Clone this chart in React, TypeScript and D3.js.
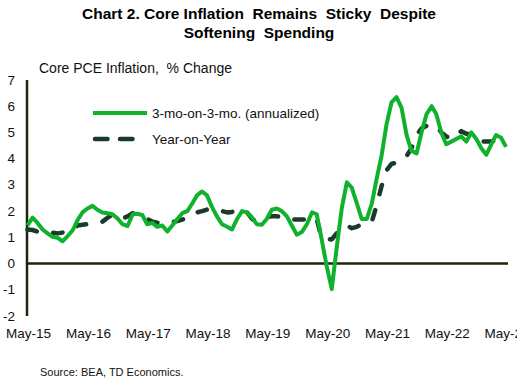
import React from "react";
import * as d3 from "d3";

const W = 517;
const H = 386;

const startYear = 2015;
const startMonth = 4; // May (0-based)

const tickLabels = ["May-15", "May-16", "May-17", "May-18", "May-19", "May-20", "May-21", "May-22", "May-23"];
const yTicks = [-2, -1, 0, 1, 2, 3, 4, 5, 6, 7];

const threeOnThree = [
  1.45, 1.75, 1.55, 1.3, 1.15, 1.02, 0.98, 0.85, 1.05, 1.27, 1.65, 1.95,
  2.1, 2.2, 2.05, 1.95, 1.92, 1.88, 1.72, 1.5, 1.43, 1.88, 1.9, 1.85,
  1.5, 1.55, 1.4, 1.45, 1.22, 1.45, 1.7, 1.92, 2.0, 2.3, 2.6, 2.75,
  2.6, 2.15, 1.8, 1.5, 1.4, 1.3, 1.7, 2.0, 1.95, 1.75, 1.5, 1.48,
  1.7, 2.05, 2.1, 2.0, 1.8, 1.45, 1.1, 1.2, 1.5, 1.95, 1.88, 0.9,
  -0.1, -0.97, 0.6, 2.1, 3.1, 2.9, 2.3, 1.7, 1.7, 2.3, 3.2, 4.1,
  5.3, 6.15, 6.35, 5.95, 4.9, 4.3, 4.2, 5.0, 5.7, 6.0, 5.7, 5.0,
  4.55, 4.65, 4.75, 4.85, 4.65, 5.0, 4.75, 4.4, 4.15, 4.55, 4.9, 4.8,
  4.45,
];

const yearOnYear = [
  1.3, 1.28, 1.22, 1.2, 1.2, 1.18, 1.15, 1.18, 1.18, 1.3, 1.45, 1.48,
  1.5, 1.53, 1.55, 1.6, 1.75, 1.87, 1.78, 1.72, 1.8, 1.92, 1.88, 1.75,
  1.7, 1.6, 1.56, 1.57, 1.56, 1.58, 1.62, 1.68, 1.72, 1.85, 1.95, 2.0,
  2.06, 2.08, 2.06, 2.0, 1.95, 1.97, 2.05, 2.06, 1.95, 1.7, 1.6, 1.68,
  1.78, 1.8, 1.8, 1.78, 1.72, 1.68, 1.68, 1.68, 1.68, 1.78, 1.7, 0.95,
  0.93, 0.92, 1.15, 1.35, 1.45, 1.35, 1.4, 1.5, 1.55, 1.6, 2.2, 2.95,
  3.55, 3.8, 3.85, 3.9, 4.1, 4.4, 4.9, 5.15, 5.25, 5.3, 5.25, 5.0,
  4.85, 4.75, 4.9, 5.05, 4.95, 4.9, 4.75, 4.65, 4.65, 4.65, 4.7, 4.65,
  4.6,
];

const seriesNames = ["3-mo-on-3-mo. (annualized)", "Year-on-Year"];

const FONT = "'Liberation Sans', Arial, sans-serif";
const GREEN = "#0fb22c";
const DARK = "#1c3a2a";
const AXIS = "#1e2410";

export default function App() {
  const dateAt = (i: number) => new Date(startYear, startMonth + i, 1);
  const first = dateAt(0);
  const last = dateAt(96);

  const x = d3.scaleTime().domain([first, last]).range([27.5, 506]);
  const y = d3.scaleLinear().domain([-2, 7]).range([316, 80]);

  const line = d3
    .line<number>()
    .x((_, i) => x(dateAt(i)))
    .y((v) => y(v));

  const tickDates = tickLabels.map((_, k) => dateAt(k * 12));

  return (
    <svg
      width={W}
      height={H}
      style={{ position: "absolute", left: 0, top: 0, background: "#fff" }}
      fontFamily={FONT}
    >
      <rect width={W} height={H} fill="#fff" />
      <text x={259} y={19} textAnchor="middle" fontWeight="bold" fontSize={15.5} fill="#000" style={{ whiteSpace: "pre" }}>
        {"Chart 2. Core Inflation  Remains  Sticky  Despite"}
      </text>
      <text x={259} y={38} textAnchor="middle" fontWeight="bold" fontSize={15.5} fill="#000" style={{ whiteSpace: "pre" }}>
        {"Softening  Spending"}
      </text>
      <text x={39} y={73} fontSize={14} fill="#111" style={{ whiteSpace: "pre" }}>
        {"Core PCE Inflation,  % Change"}
      </text>

      {/* y axis */}
      <line x1={27} x2={27} y1={y(7)} y2={y(-2)} stroke={AXIS} strokeWidth={2.5} />
      {yTicks.map((t) => (
        <text key={t} x={15} y={y(t) + 4.5} textAnchor="end" fontSize={13.5} fill="#111">
          {t}
        </text>
      ))}

      {/* zero line */}
      <line x1={27} x2={508} y1={y(0)} y2={y(0)} stroke={AXIS} strokeWidth={2.5} />

      {/* x labels */}
      {tickDates.map((d, k) => (
        <text key={k} x={x(d) + 1} y={338} textAnchor="middle" fontSize={13.5} fill="#111">
          {tickLabels[k]}
        </text>
      ))}

      {/* series */}
      <path d={line(yearOnYear) || ""} fill="none" stroke={DARK} strokeWidth={4.5} strokeDasharray="9.5 16.5" strokeLinecap="round" strokeLinejoin="round" />
      <path d={line(threeOnThree) || ""} fill="none" stroke={GREEN} strokeWidth={4} strokeLinejoin="round" />

      {/* legend */}
      <line x1={93} x2={147} y1={113} y2={113} stroke={GREEN} strokeWidth={4} />
      <text x={152} y={118} fontSize={13.5} fill="#111">{seriesNames[0]}</text>
      <line x1={95} x2={133} y1={139} y2={139} stroke={DARK} strokeWidth={4.5} strokeDasharray="12.5 12.5" strokeLinecap="round" />
      <text x={152} y={144} fontSize={13.5} fill="#111">{seriesNames[1]}</text>

      <text x={40} y={376} fontSize={11} fill="#111">Source: BEA, TD Economics.</text>
    </svg>
  );
}
